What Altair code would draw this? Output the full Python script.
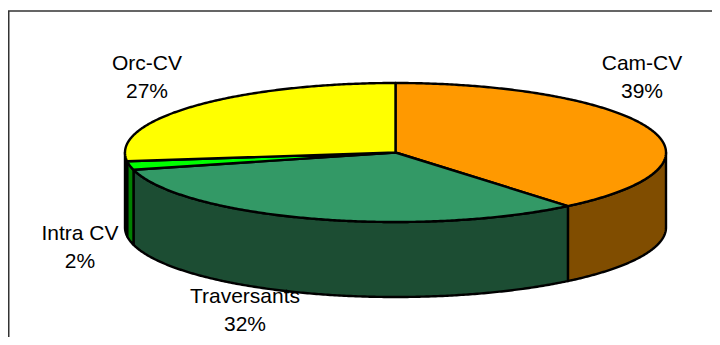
import math
import altair as alt

categories = ["Cam-CV", "Traversants", "Intra CV", "Orc-CV"]
shares = [39, 32, 2, 27]

top_colors = ["#FF9900", "#339966", "#00FF00", "#FFFF00"]
wall_colors = ["#804D00", "#1C4D33", "#008000", "#808000"]

W, H = 704, 329
OFF = 8
CX, CY, A, B, DEPTH = 395.5 - OFF, 152.5 - OFF, 270.5, 69.5, 75
label_x = [642 - OFF, 245 - OFF, 80 - OFF, 147 - OFF]
label_y = [70 - OFF, 303 - OFF, 240 - OFF, 70 - OFF]


def pt(deg, dy=0.0):
    t = math.radians(deg)
    return [CX + A * math.sin(t), CY - B * math.cos(t) + dy]


def arc(a0, a1, dy=0.0):
    n = max(2, int(abs(a1 - a0) * 2) + 1)
    return [pt(a0 + (a1 - a0) * i / (n - 1), dy) for i in range(n)]


def feature(key, ring):
    ring = ring + [ring[0]]
    return {"type": "Feature", "properties": {"key": key},
            "geometry": {"type": "Polygon", "coordinates": [ring]}}


edges = [0.0]
for s in shares:
    edges.append(edges[-1] + s * 360.0 / sum(shares))

walls, tops = [], []
for i, name in enumerate(categories):
    a0, a1 = edges[i], edges[i + 1]
    lo, hi = max(a0, 90), min(a1, 270)
    if lo < hi:
        walls.append(feature("w" + name, arc(lo, hi) + arc(hi, lo, DEPTH)))
    tops.append(feature("t" + name, [[CX, CY]] + arc(a0, a1)))

domain = ["w" + c for c in categories] + ["t" + c for c in categories]
colors = wall_colors + top_colors
proj = alt.Projection(type="identity", scale=1, translate=[0, 0])

pie = (
    alt.Chart(alt.Data(values=walls + tops))
    .mark_geoshape(stroke="black", strokeWidth=2.4, strokeJoin="round")
    .encode(color=alt.Color("properties.key:N",
                            scale=alt.Scale(domain=domain, range=colors),
                            legend=None))
    .project(**proj.to_dict())
)

frame = (
    alt.Chart(alt.Data(values=[{"type": "Feature", "properties": {},
                                "geometry": {"type": "LineString",
                                             "coordinates": [[0.75, H], [0.75, 11 - OFF], [W, 11 - OFF]]}}]))
    .mark_geoshape(filled=False, stroke="#333333", strokeWidth=1.5)
    .project(**proj.to_dict())
)

labels = (
    alt.Chart(alt.Data(values=[
        {"t": f"{c}\n{s}%", "x": x, "y": y}
        for c, s, x, y in zip(categories, shares, label_x, label_y)
    ]))
    .mark_text(font="Liberation Sans", fontSize=21, lineBreak="\n", lineHeight=27.5,
               align="center", baseline="alphabetic", color="black")
    .encode(
        x=alt.X("x:Q", scale=alt.Scale(domain=[0, W], range=[0, W], nice=False), axis=None),
        y=alt.Y("y:Q", scale=alt.Scale(domain=[0, H], range=[0, H], nice=False), axis=None),
        text="t:N",
    )
)

chart = (
    alt.layer(frame, pie, labels)
    .resolve_scale(x="independent", y="independent")
    .properties(width=W, height=H, padding=0, background="white",
                autosize=alt.AutoSizeParams(type="none"))
    .configure_view(stroke=None)
)
chart.save("out.html", embed_options={"renderer": "svg", "actions": False})
